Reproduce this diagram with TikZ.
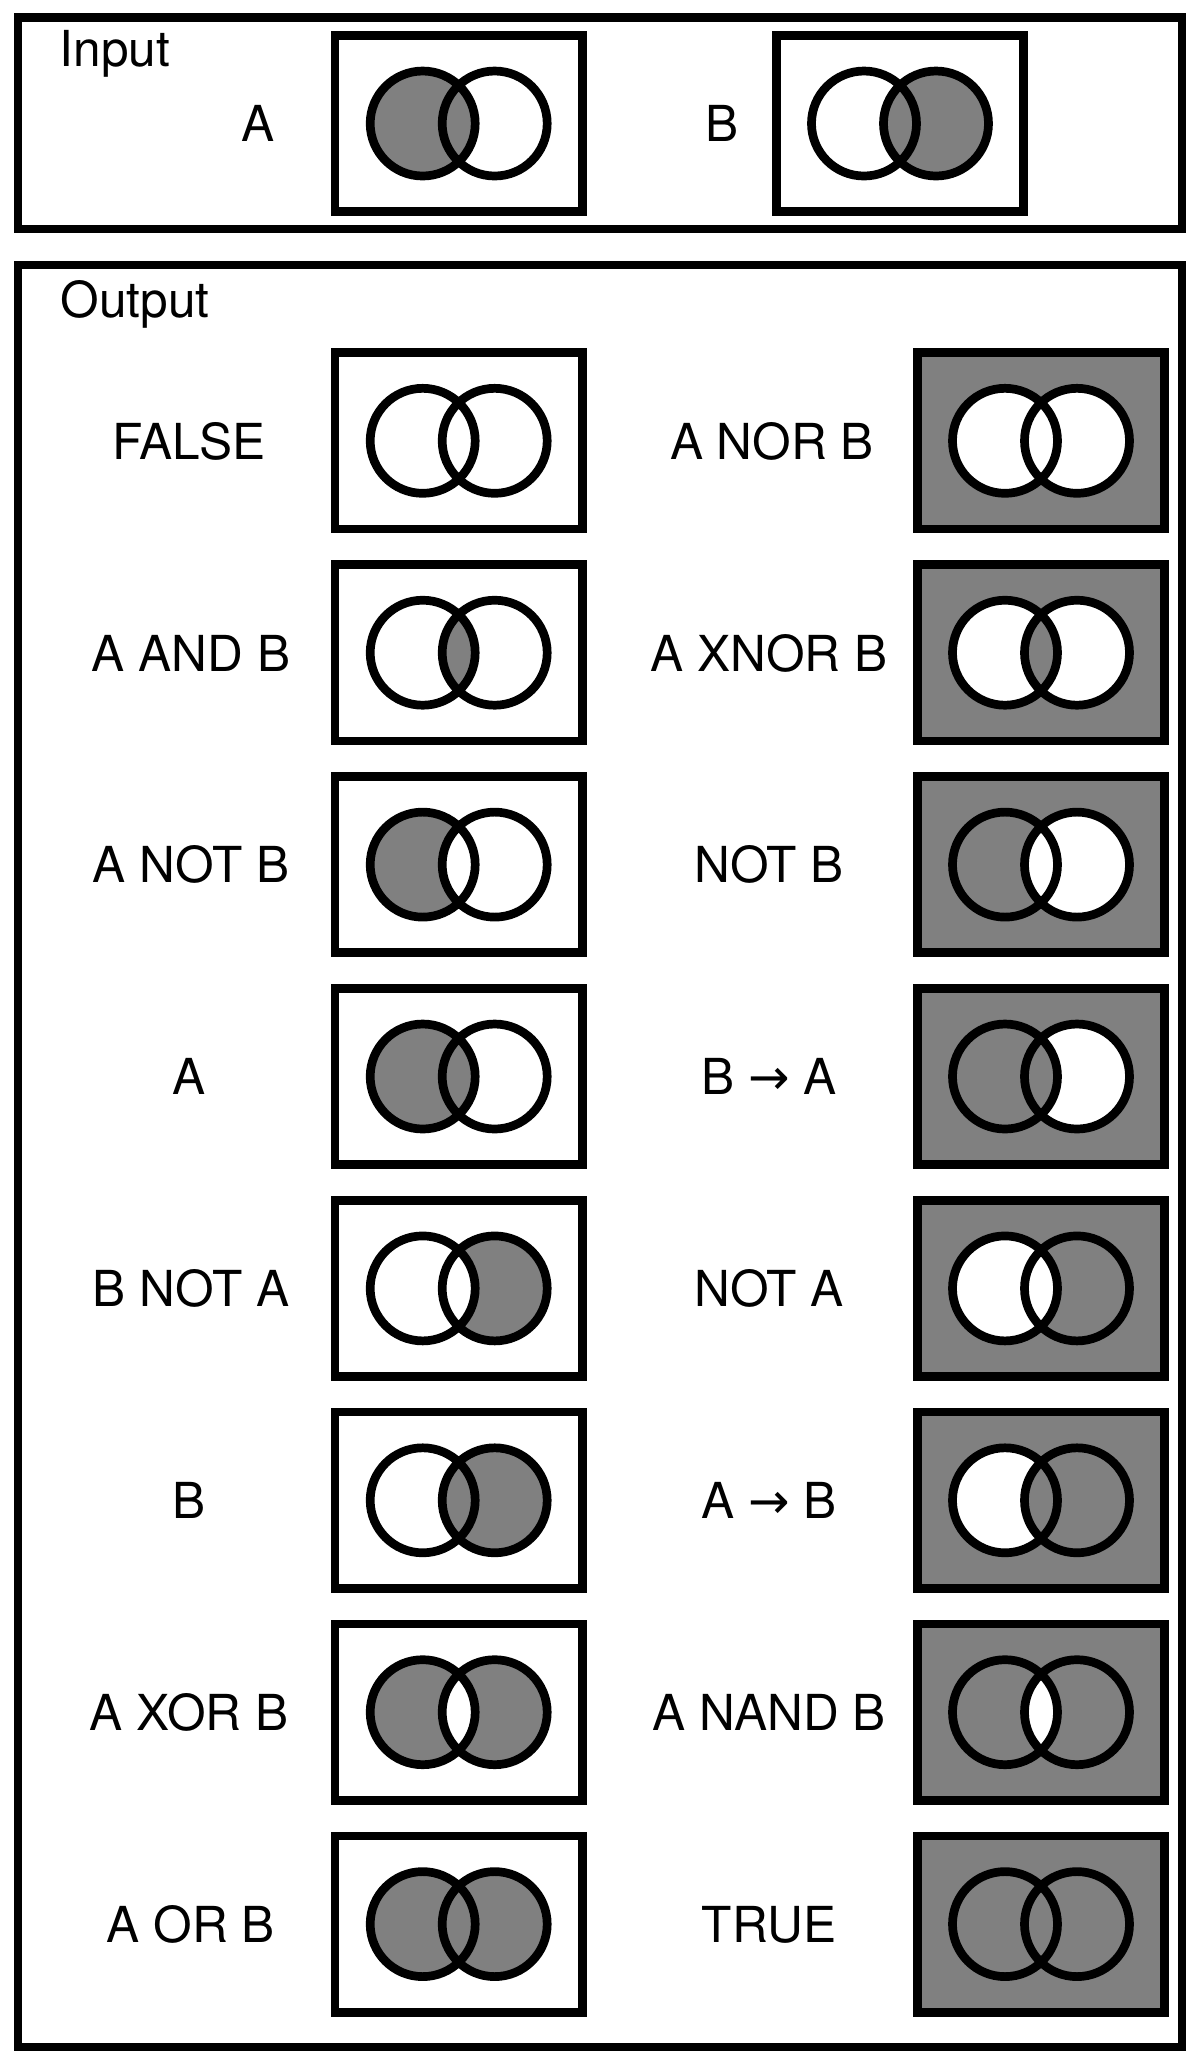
\documentclass[tikz,border=0pt]{standalone}
\usepackage{fontspec}
\setmainfont{TeX Gyre Heros}
\newfontfamily\arrowfont{DejaVu Sans}

\colorlet{vgray}{black!50}
\colorlet{vwhite}{white}
\tikzset{
  frame/.style={line width=0.087cm},
  lbl/.style={font=\fontsize{14.1pt}{17pt}\selectfont, inner sep=0pt, anchor=base},
}
\newcommand\implies{{\arrowfont →}}
% #1,#2 中心; #3 外面; #4 只有A; #5 A和B; #6 只有B
\newcommand\venn[6]{
  \filldraw[frame, fill=#3] (#1-123.6,#2-88.2) rectangle (#1+123.6,#2+88.2);
  \begin{scope}
    \clip (#1-36,#2) circle[radius=52.5];
    \fill[fill=#4, even odd rule] (#1-36,#2) circle[radius=52.5] (#1+36,#2) circle[radius=52.5];
    \fill[fill=#5] (#1+36,#2) circle[radius=52.5];
  \end{scope}
  \begin{scope}
    \clip (#1+36,#2) circle[radius=52.5];
    \fill[fill=#6, even odd rule] (#1-36,#2) circle[radius=52.5] (#1+36,#2) circle[radius=52.5];
  \end{scope}
  \draw[frame] (#1-36,#2) circle[radius=52.5] (#1+36,#2) circle[radius=52.5];
}

\begin{document}
\begin{tikzpicture}[x=0.01cm, y=-0.01cm]
    \useasboundingbox (0,0) rectangle (1200,2065);
    \fill[white] (0,0) rectangle (1200,2065);

    % 输入
    \draw[frame] (18,17.5) rectangle (1182,229);
    \node[lbl, anchor=base west] (input) at (59,66.7) {Input};
    \node[lbl] (la) at (258,141.8) {A};
    \node[lbl] (lb) at (722,141.8) {B};
    \venn{458.7}{123.5}{vwhite}{vgray}{vgray}{vwhite}
    \venn{900}{123.5}{vwhite}{vwhite}{vgray}{vgray}

    % 输出
    \draw[frame] (18,265) rectangle (1182,2047);
    \node[lbl, anchor=base west] (output) at (60,317.5) {Output};

    \node[lbl] (l1) at (189,459.1) {FALSE};
    \venn{458.7}{440.8}{vwhite}{vwhite}{vwhite}{vwhite}
    \node[lbl] (l2) at (191,671) {A AND B};
    \venn{458.7}{652.7}{vwhite}{vwhite}{vgray}{vwhite}
    \node[lbl] (l3) at (191,882.9) {A NOT B};
    \venn{458.7}{864.6}{vwhite}{vgray}{vwhite}{vwhite}
    \node[lbl] (l4) at (189,1094.8) {A};
    \venn{458.7}{1076.5}{vwhite}{vgray}{vgray}{vwhite}
    \node[lbl] (l5) at (191,1306.7) {B NOT A};
    \venn{458.7}{1288.4}{vwhite}{vwhite}{vwhite}{vgray}
    \node[lbl] (l6) at (189,1518.6) {B};
    \venn{458.7}{1500.3}{vwhite}{vwhite}{vgray}{vgray}
    \node[lbl] (l7) at (189,1730.5) {A XOR B};
    \venn{458.7}{1712.2}{vwhite}{vgray}{vwhite}{vgray}
    \node[lbl] (l8) at (191,1942.4) {A OR B};
    \venn{458.7}{1924.1}{vwhite}{vgray}{vgray}{vgray}

    \node[lbl] (r1) at (772,459.1) {A NOR B};
    \venn{1041}{440.8}{vgray}{vwhite}{vwhite}{vwhite}
    \node[lbl] (r2) at (769,671) {A XNOR B};
    \venn{1041}{652.7}{vgray}{vwhite}{vgray}{vwhite}
    \node[lbl] (r3) at (769,882.9) {NOT B};
    \venn{1041}{864.6}{vgray}{vgray}{vwhite}{vwhite}
    \node[lbl] (r4) at (769,1094.8) {B \implies{} A};
    \venn{1041}{1076.5}{vgray}{vgray}{vgray}{vwhite}
    \node[lbl] (r5) at (769,1306.7) {NOT A};
    \venn{1041}{1288.4}{vgray}{vwhite}{vwhite}{vgray}
    \node[lbl] (r6) at (769,1518.6) {A \implies{} B};
    \venn{1041}{1500.3}{vgray}{vwhite}{vgray}{vgray}
    \node[lbl] (r7) at (769,1730.5) {A NAND B};
    \venn{1041}{1712.2}{vgray}{vgray}{vwhite}{vgray}
    \node[lbl] (r8) at (769,1942.4) {TRUE};
    \venn{1041}{1924.1}{vgray}{vgray}{vgray}{vgray}
\end{tikzpicture}
\end{document}
